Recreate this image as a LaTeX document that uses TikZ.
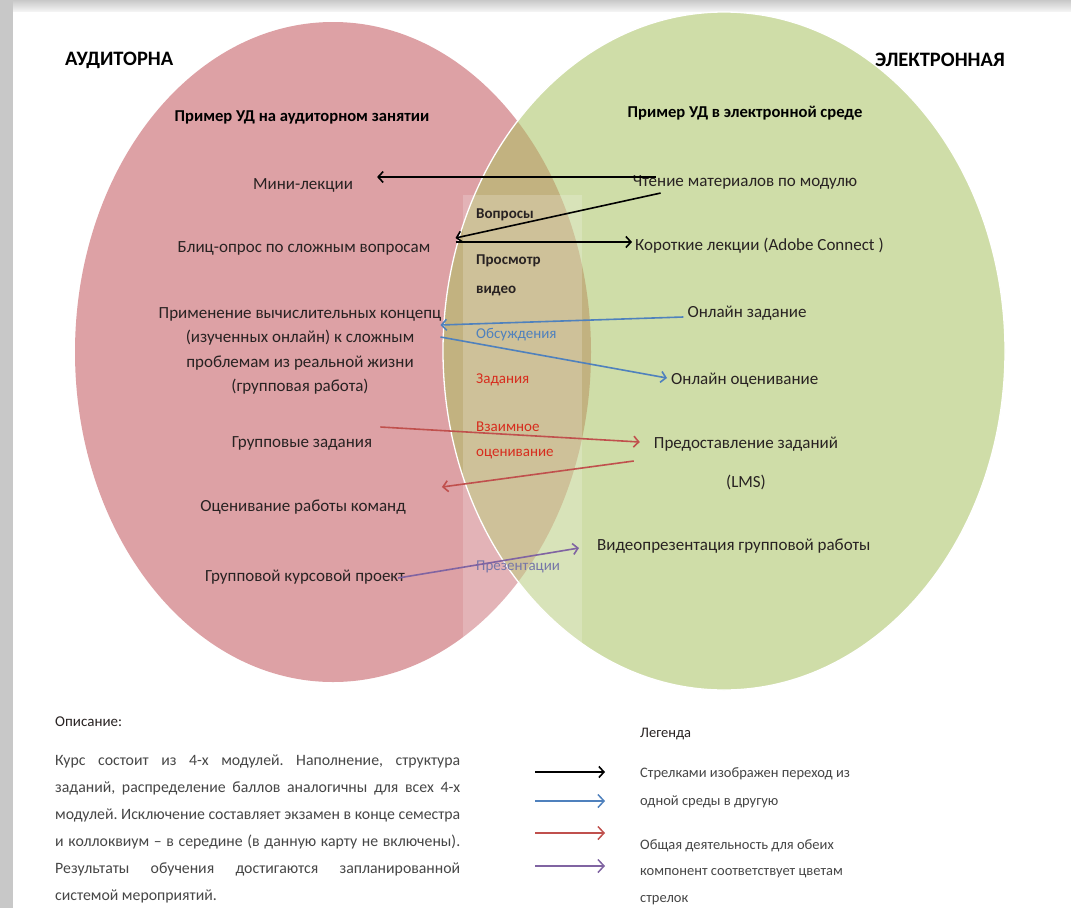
\documentclass[tikz,border=0pt]{standalone}
\usepackage{fontspec}
\setmainfont{Carlito}
\usepackage{tikz}
\usetikzlibrary{positioning, calc, arrows.meta}
\frenchspacing
\definecolor{venpink}{RGB}{221,161,165}
\definecolor{vengreen}{RGB}{207,221,168}
\definecolor{ventan}{RGB}{194,178,128}
\definecolor{arrblue}{RGB}{79,129,189}
\definecolor{arrred}{RGB}{192,80,77}
\definecolor{arrpurple}{RGB}{128,100,162}
\definecolor{txtdark}{RGB}{40,34,34}
\definecolor{txtgray}{RGB}{70,70,70}
\definecolor{midred}{RGB}{215,45,30}
\definecolor{midpurple}{RGB}{118,118,168}
\definecolor{framegray}{RGB}{200,200,200}

\begin{document}
\begin{tikzpicture}[x=1pt, y=-1pt,
	lbl/.style={font=\fontsize{17}{24.5}\selectfont, text=txtdark, inner sep=1pt, align=center},
	ttl/.style={font=\fontsize{20.5}{24}\selectfont\bfseries, inner sep=0pt},
	sub/.style={font=\fontsize{16.6}{20}\selectfont\bfseries, inner sep=0pt},
	mid/.style={font=\fontsize{15}{27}\selectfont, inner sep=0pt, anchor=west, align=left},
	ptr/.style={-{Straight Barb[length=5pt,width=11pt]}, line width=1.6pt},
	smallptr/.style={-{Straight Barb[length=6pt,width=13pt]}, line width=1.5pt},
	legtxt/.style={font=\fontsize{14.5}{27}\selectfont, text=txtgray, inner sep=0pt, anchor=west, align=left}]
				\useasboundingbox (0,0) rectangle (1071,908);
				\fill[framegray] (0,0) rectangle (1071,908);
				\shade[top color=framegray, bottom color=white!85!framegray] (13,0) rectangle (1071,12);
				\fill[white] (13,12) rectangle (1071,908);
				
				\fill[venpink] (333,352) ellipse [x radius=258pt, y radius=330pt];
				\fill[vengreen] (724,351) ellipse [x radius=281pt, y radius=339pt];
				\begin{scope}
					\clip (333,352) ellipse [x radius=258pt, y radius=330pt];
					\fill[ventan] (724,351) ellipse [x radius=281pt, y radius=339pt];
				\end{scope}
				\draw[white, line width=1.3pt] (724,351) ellipse [x radius=281pt, y radius=339pt];
				\fill[white, opacity=0.2] (463,195) rectangle (582,680);
				
				\node[ttl, anchor=west] (aud) at (65,60) {АУДИТОРНА};
				\node[ttl, anchor=east] (elec) at (1005,60) {ЭЛЕКТРОННАЯ};
				\node[sub] (audsub) at (302,117) {Пример УД на аудиторном занятии};
				\node[sub] (elsub) at (745,113) {Пример УД в электронной среде};
				
				\node[lbl] (mini) at (303,185) {Мини-лекции};
				\node[lbl] (blic) at (304,248) {Блиц-опрос по сложным вопросам};
				\node[lbl] (prim) at (300,351) {Применение вычислительных концепц\\(изученных онлайн) к сложным\\проблемам из реальной жизни\\(групповая работа)};
				\node[lbl] (grzad) at (302,443) {Групповые задания};
				\node[lbl] (ocen) at (303,507) {Оценивание работы команд};
				\node[lbl] (proj) at (305,577) {Групповой курсовой проект};
				
				\node[lbl] (chten) at (745,182) {Чтение материалов по модулю};
				\node[lbl, anchor=west] (korot) at (634,246) {Короткие лекции (Adobe Connect )};
				\node[lbl] (onzad) at (747,313) {Онлайн задание};
				\node[lbl, anchor=west] (onocen) at (670,380) {Онлайн оценивание};
				\node[lbl, font=\fontsize{17}{39}\selectfont] (lms) at (746,463) {Предоставление заданий\\(LMS)};
				\node[lbl, anchor=west] (video) at (596,546) {Видеопрезентация групповой работы};
				
				\node[mid, font=\fontsize{15}{27}\selectfont\bfseries, text=txtdark] (vopr) at (476,215) {Вопросы};
				\node[mid, font=\fontsize{15}{29}\selectfont\bfseries, text=txtdark] (prosm) at (476,275) {Просмотр\\видео};
				\node[mid, text=arrblue] (obsu) at (476,335) {Обсуждения};
				\node[mid, text=midred] (zad) at (476,380) {Задания};
				\node[mid, text=midred, font=\fontsize{15}{25}\selectfont] (vzaim) at (476,440) {Взаимное\\оценивание};
				\node[mid, text=midpurple] (prez) at (476,567) {Презентации};
				
				\draw[ptr] ($(chten.west)+(24,-5)$) -- ($(mini.east)+(23,-8)$);
				\draw[ptr] ($(chten.south west)+(29,3)$) -- ($(blic.east)+(24,-10)$);
				\draw[ptr] ($(blic.east)+(24,-6)$) -- ($(korot.west)+(-2,-4)$);
				\draw[ptr, arrblue] ($(onzad.west)+(-3,4)$) -- ($(prim.east)+(-2,-26)$);
				\draw[ptr, arrblue] ($(prim.east)+(-2,-14)$) -- ($(onocen.west)+(-3,-2)$);
				\draw[ptr, arrred] ($(grzad.east)+(7,-16)$) -- ($(lms.west)+(-13,-21)$);
				\draw[ptr, arrred] ($(lms.west)+(-19,-2)$) -- ($(ocen.east)+(35,-20)$);
				\draw[ptr, arrpurple] ($(proj.east)+(-8,1)$) -- ($(video.west)+(-17,2)$);
				
				\node[legtxt, text=txtdark, font=\fontsize{15}{27}\selectfont] (opis) at (55,722) {Описание:};
				\node[legtxt, anchor=north west, font=\fontsize{15.8}{27}\selectfont] (descr) at (55,755) {\makebox[405pt][s]{Курс состоит из 4-х модулей. Наполнение, структура}\\\makebox[405pt][s]{заданий, распределение баллов аналогичны для всех 4-х}\\\makebox[405pt][s]{модулей. Исключение составляет экзамен в конце семестра}\\\makebox[405pt][s]{и коллоквиум – в середине (в данную карту не включены).}\\\makebox[405pt][s]{Результаты обучения достигаются запланированной}\\системой мероприятий.};
				
				\node[legtxt, text=txtdark] (leg) at (640,734) {Легенда};
				\node[legtxt, font=\fontsize{14.5}{28}\selectfont] (leg1) at (640,788) {Стрелками изображен переход из\\одной среды в другую};
				\node[legtxt, font=\fontsize{14.5}{26.5}\selectfont] (leg2) at (640,872) {Общая деятельность для обеих\\компонент соответствует цветам\\стрелок};
				\draw[ptr] ($(leg1.west)+(-105,-16)$) -- ($(leg1.west)+(-35,-16)$);
				\draw[smallptr, arrblue] ($(leg1.west)+(-105,13)$) -- ($(leg1.west)+(-35,13)$);
				\draw[smallptr, arrred] ($(leg2.west)+(-105,-39)$) -- ($(leg2.west)+(-35,-39)$);
				\draw[smallptr, arrpurple] ($(leg2.west)+(-105,-6)$) -- ($(leg2.west)+(-35,-6)$);
\end{tikzpicture}
\end{document}
